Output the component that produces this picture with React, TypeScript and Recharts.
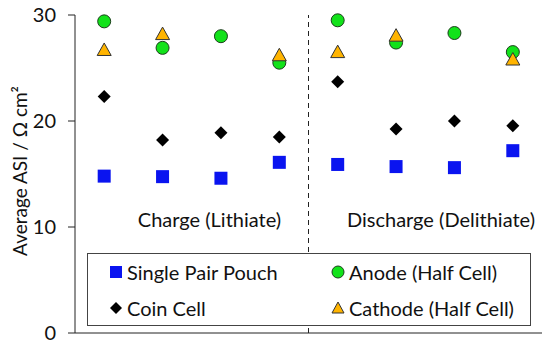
import { ScatterChart, Scatter, XAxis, YAxis, ReferenceLine, Customized } from 'recharts';

const positions = [0.5, 1.5, 2.5, 3.5, 4.5, 5.5, 6.5, 7.5];
const pouch = [14.8, 14.75, 14.6, 16.1, 15.9, 15.7, 15.6, 17.2];
const coin = [22.3, 18.2, 18.9, 18.5, 23.7, 19.25, 20.0, 19.55];
const anode = [29.4, 26.9, 28.0, 25.5, 29.5, 27.4, 28.3, 26.5];
const cathode: (number | null)[] = [26.7, 28.2, null, 26.2, 26.5, 28.05, null, 25.8];
const xTicks = [0, 1, 2, 3, 4, 5, 6, 7, 8];
const yTicks = [0, 10, 20, 30];
const sectionLabels = ['Charge (Lithiate)', 'Discharge (Delithiate)'];

const toPoints = (vals: (number | null)[]) =>
  vals.map((v, i) => ({ x: positions[i], y: v })).filter(p => p.y !== null);

const FONT = 'Lato, "Open Sans", sans-serif';

const SquareShape = ({ cx, cy }: any) => (
  <rect x={cx - 6.5} y={cy - 6.5} width={13} height={13} fill="#0a14f0" />
);
const DiamondShape = ({ cx, cy }: any) => (
  <polygon points={`${cx},${cy - 6.5} ${cx + 6.5},${cy} ${cx},${cy + 6.5} ${cx - 6.5},${cy}`} fill="#000" />
);
const CircleShape = ({ cx, cy }: any) => (
  <circle cx={cx} cy={cy} r={6.5} fill="#12e21a" stroke="#1d3d1d" strokeWidth={1} />
);
const TriangleShape = ({ cx, cy }: any) => (
  <polygon points={`${cx},${cy - 7} ${cx + 7},${cy + 5.5} ${cx - 7},${cy + 5.5}`} fill="#ffb400" stroke="#333" strokeWidth={1} />
);

const legendItems = [
  { name: 'Single Pair Pouch', icon: <rect x={2} y={2} width={12} height={12} fill="#0a14f0" /> },
  { name: 'Anode (Half Cell)', icon: <circle cx={8} cy={8} r={6} fill="#12e21a" stroke="#1d3d1d" /> },
  { name: 'Coin Cell', icon: <polygon points="8,2 14,8 8,14 2,8" fill="#000" /> },
  { name: 'Cathode (Half Cell)', icon: <polygon points="8,2 14,13 2,13" fill="#ffb400" stroke="#333" /> },
];

const LegendBox = () => (
  <div
    style={{
      position: 'absolute', left: 87, top: 253,
      boxSizing: 'border-box', width: 444, height: 73, border: '1px solid #444', background: '#fff',
      display: 'grid', gridTemplateColumns: '242px 200px', gridTemplateRows: '36px 36px',
      fontFamily: FONT, fontSize: 20, color: '#111', paddingTop: 0,
    }}
  >
    {legendItems.map((it, i) => (
      <div key={i} style={{ display: 'flex', alignItems: 'center', paddingLeft: i % 2 === 0 ? 20 : 0 }}>
        <svg width={16} height={16} style={{ marginRight: 3 }}>{it.icon}</svg>
        <span>{it.name}</span>
      </div>
    ))}
  </div>
);

const SectionText = () => (
  <g fontFamily={FONT} fontSize={20} fill="#111" textAnchor="middle">
    <text x={209.5} y={227}>{sectionLabels[0]}</text>
    <text x={441} y={227}>{sectionLabels[1]}</text>
  </g>
);

const YLabel = () => (
  <text x={0} y={0} transform="translate(27,171) rotate(-90)" textAnchor="middle" fontFamily={FONT} fontSize={19} fill="#111">
    Average ASI / Ω cm²
  </text>
);

export default function App() {
  return (
    <div style={{ position: 'absolute', left: 0, top: 0, width: 550, height: 349, background: '#fff' }}>
      <ScatterChart width={550} height={349} margin={{ top: 15, right: 8, bottom: 0, left: 0 }}>
        <XAxis
          type="number" dataKey="x" domain={[0, 8]} ticks={xTicks} tick={false}
          height={16} tickSize={7} stroke="#222" interval={0}
        />
        <YAxis
          type="number" dataKey="y" domain={[0, 30]} ticks={yTicks} width={75} tickSize={7}
          tickMargin={12} stroke="#222" interval={0}
          tick={{ fontFamily: FONT, fontSize: 20, fill: '#111' }}
          label={<YLabel />}
        />
        <ReferenceLine x={4} stroke="#222" strokeDasharray="5 4" strokeWidth={1} />
        <Customized component={SectionText} />
        <Scatter name="Single Pair Pouch" data={toPoints(pouch)} shape={<SquareShape />} isAnimationActive={false} />
        <Scatter name="Coin Cell" data={toPoints(coin)} shape={<DiamondShape />} isAnimationActive={false} />
        <Scatter name="Anode (Half Cell)" data={toPoints(anode)} shape={<CircleShape />} isAnimationActive={false} />
        <Scatter name="Cathode (Half Cell)" data={toPoints(cathode)} shape={<TriangleShape />} isAnimationActive={false} />
      </ScatterChart>
      <LegendBox />
    </div>
  );
}
